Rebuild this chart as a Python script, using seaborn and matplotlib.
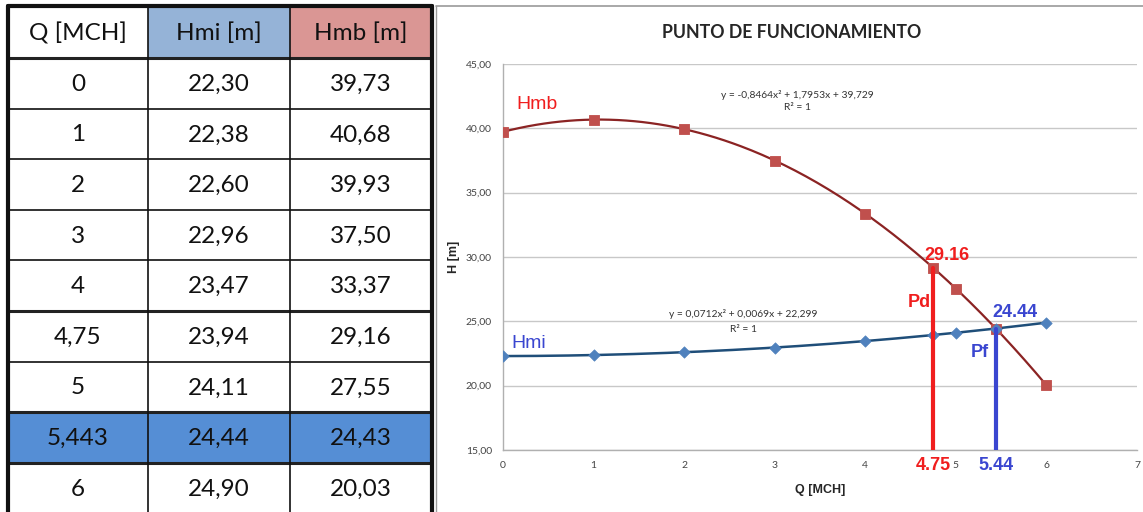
import numpy as np
import pandas as pd
import matplotlib
matplotlib.use("Agg")
import matplotlib.pyplot as plt
from matplotlib.patches import Rectangle
import seaborn as sns

# Operating-point data
q_vals = [0, 1, 2, 3, 4, 4.75, 5, 5.443, 6]
q_labels = ["0", "1", "2", "3", "4", "4,75", "5", "5,443", "6"]
hmi_vals = [22.30, 22.38, 22.60, 22.96, 23.47, 23.94, 24.11, 24.44, 24.90]
hmb_vals = [39.73, 40.68, 39.93, 37.50, 33.37, 29.16, 27.55, 24.43, 20.03]
headers = ["Q [MCH]", "Hmi [m]", "Hmb [m]"]

pd_q, pd_h = 4.75, 29.16      # design point
pf_q, pf_h = 5.44, 24.44      # operating point

sns.set_style("white")
plt.rcParams["font.family"] = ["Liberation Sans", "DejaVu Sans"]

W, H = 1143, 512
fig = plt.figure(figsize=(W / 100, H / 100), dpi=100)

# ---------- table panel (pixel coordinates) ----------
bg = fig.add_axes([0, 0, 1, 1])
bg.set_xlim(0, W)
bg.set_ylim(H, 0)
bg.axis("off")

col_x = [8, 148, 290, 432]
head_top, head_bot = 6, 58
row_h = 50.6
header_colors = ["white", "#95B3D7", "#DA9694"]
highlight_row = 7
tfont = ["Lato", "DejaVu Sans"]

for c in range(3):
    bg.add_patch(Rectangle((col_x[c], head_top), col_x[c + 1] - col_x[c],
                           head_bot - head_top, facecolor=header_colors[c],
                           edgecolor="none", zorder=1))
    bg.text((col_x[c] + col_x[c + 1]) / 2, (head_top + head_bot) / 2 + 1,
            headers[c], ha="center", va="center", fontsize=17.5,
            family=tfont, color="#111111", zorder=3)

rows = list(zip(q_labels,
                [f"{v:.2f}".replace(".", ",") for v in hmi_vals],
                [f"{v:.2f}".replace(".", ",") for v in hmb_vals]))
for r, vals in enumerate(rows):
    y0 = head_bot + r * row_h
    if r == highlight_row:
        bg.add_patch(Rectangle((col_x[0], y0), col_x[3] - col_x[0], row_h,
                               facecolor="#558ED5", edgecolor="none", zorder=1))
    for c in range(3):
        bg.text((col_x[c] + col_x[c + 1]) / 2, y0 + row_h / 2 + 1, vals[c],
                ha="center", va="center", fontsize=17.5, family=tfont,
                color="#111111", zorder=3)
    bg.plot([col_x[0], col_x[3]], [y0, y0], color="#222222",
            lw=2.2 if r in (0, 5, 7, 8) else 1.3, zorder=2)

for i, x in enumerate(col_x):
    bg.plot([x, x], [head_top, H], color="#111111",
            lw=3 if i in (0, 3) else 1.2, zorder=2)
bg.plot([col_x[0], col_x[3]], [head_top, head_top], color="#111111", lw=3, zorder=2)

# chart panel frame
bg.plot([436, W], [6, 6], color="#9a9a9a", lw=1.2, zorder=2)
bg.plot([436, 436], [6, H], color="#9a9a9a", lw=1.0, zorder=2)

# ---------- chart panel ----------
ax = fig.add_axes([503 / W, 1 - 450 / H, (1137 - 503) / W, (450 - 64) / H])
ax.set_xlim(0, 7)
ax.set_ylim(15, 45)
ax.set_facecolor("none")

df = pd.DataFrame({"Q": q_vals, "Hmi": hmi_vals, "Hmb": hmb_vals})

# second-order trendlines
qq = np.linspace(0, 6, 200)
cb = np.polyfit(q_vals, hmb_vals, 2)
ci = np.polyfit(q_vals, hmi_vals, 2)
trend = pd.DataFrame({"Q": qq, "Hmb": np.polyval(cb, qq), "Hmi": np.polyval(ci, qq)})

sns.lineplot(data=trend, x="Q", y="Hmb", ax=ax, color="#8B2323", lw=1.6, zorder=3)
sns.lineplot(data=trend, x="Q", y="Hmi", ax=ax, color="#1F4E79", lw=1.8, zorder=3)
sns.scatterplot(data=df, x="Q", y="Hmb", ax=ax, marker="s", s=60,
                color="#C0504D", edgecolor="#C0504D", zorder=4)
sns.scatterplot(data=df, x="Q", y="Hmi", ax=ax, marker="D", s=34,
                color="#4F81BD", edgecolor="#4F81BD", zorder=4)

# design and operating point markers
ax.plot([pd_q, pd_q], [15, pd_h], color="#F01E1E", lw=3, zorder=5)
ax.plot([pf_q, pf_q], [15, pf_h], color="#3A46D0", lw=3, zorder=5)

ax.yaxis.grid(True, color="#c8c8c8", lw=1)
ax.set_axisbelow(True)
ax.set_xticks(range(8))
ax.set_yticks(range(15, 46, 5))
ax.set_yticklabels([f"{v:.2f}".replace(".", ",") for v in range(15, 46, 5)])
ax.tick_params(axis="both", labelsize=7.5, colors="#444444", length=0, pad=8)
for t in ax.get_xticklabels() + ax.get_yticklabels():
    t.set_family(tfont)
for s in ("top", "right"):
    ax.spines[s].set_visible(False)
for s in ("left", "bottom"):
    ax.spines[s].set_color("#b0b0b0")
    ax.spines[s].set_linewidth(1)

ax.set_xlabel("Q [MCH]", fontsize=9, fontweight="bold", labelpad=10)
ax.set_ylabel("H [m]", fontsize=9, fontweight="bold", labelpad=4)
fig.text(792 / W, 1 - 33 / H, "PUNTO DE FUNCIONAMIENTO", ha="center",
         va="center", fontsize=12.8, fontweight="bold", family=tfont)

eq = dict(ha="center", va="center", fontsize=7.4, family=tfont, color="#333333")
ax.text(3.25, 42.6, "y = -0,8464x² + 1,7953x + 39,729", **eq)
ax.text(3.25, 41.6, "R² = 1", **eq)
ax.text(2.65, 25.6, "y = 0,0712x² + 0,0069x + 22,299", **eq)
ax.text(2.65, 24.35, "R² = 1", **eq)

red, blue = "#F01E1E", "#3A46D0"
lab = dict(fontsize=13, fontweight="bold", ha="center", va="center")
ax.text(0.375, 41.85, "Hmb", color=red, **{**lab, "fontweight": "normal", "fontsize": 14})
ax.text(0.28, 23.3, "Hmi", color=blue, **{**lab, "fontweight": "normal", "fontsize": 14})
ax.text(4.90, 30.15, f"{pd_h:.2f}", color=red, **lab)
ax.text(4.60, 26.5, "Pd", color=red, **lab)
ax.text(5.65, 25.7, f"{pf_h:.2f}", color=blue, **lab)
ax.text(5.26, 22.6, "Pf", color=blue, **lab)
ax.text(pd_q, 13.8, f"{pd_q:.2f}", color=red, **lab)
ax.text(pf_q, 13.8, f"{pf_q:.2f}", color=blue, **lab)
for t in ax.texts[-6:]:
    t.set_clip_on(False)

fig.savefig("out.png", dpi=100, facecolor="white")
